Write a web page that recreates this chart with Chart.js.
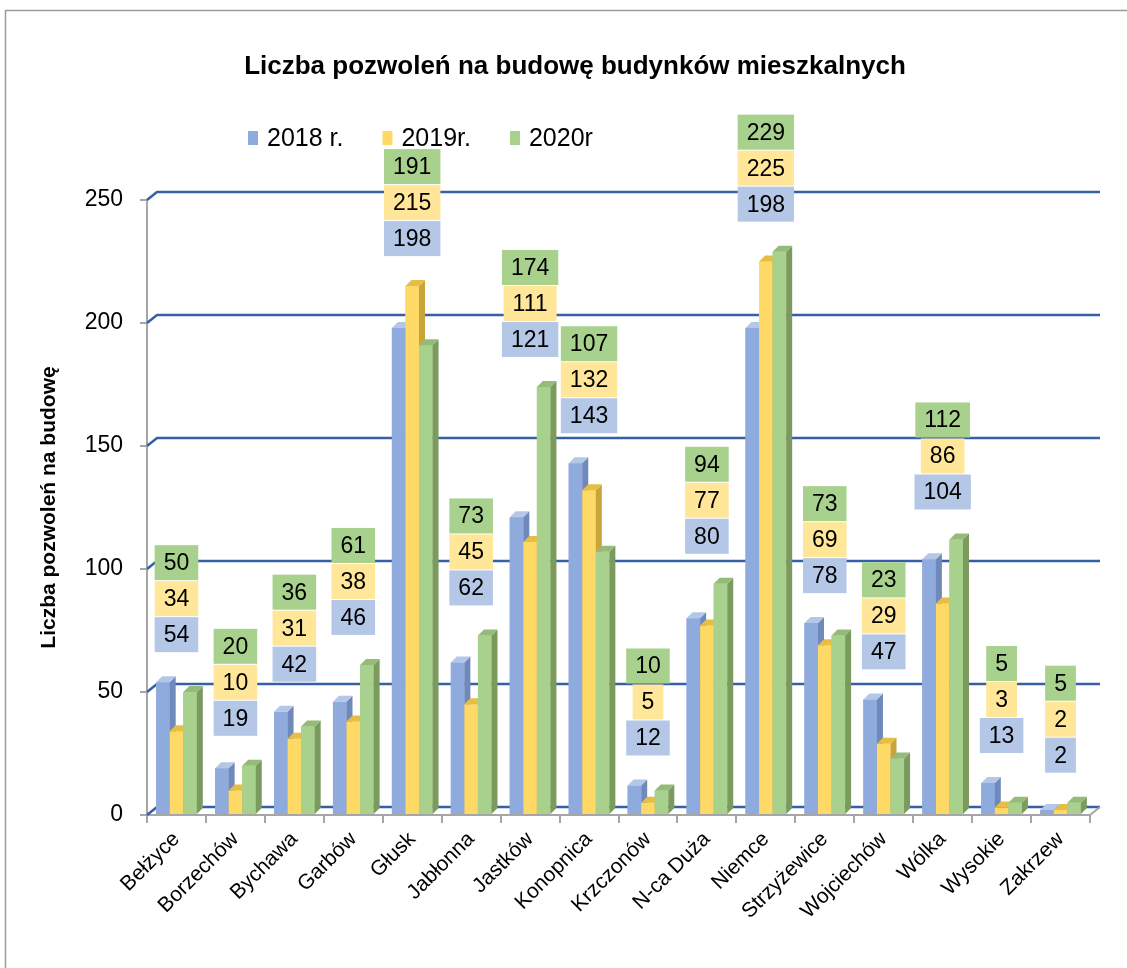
<!DOCTYPE html>
<html><head><meta charset="utf-8">
<script src="https://cdn.jsdelivr.net/npm/chart.js@4"></script>
<style>html,body{margin:0;padding:0;background:#fff;} #wrap{position:relative;width:1127px;height:968px;overflow:hidden}</style>
</head><body><div id="wrap"><canvas id="c" width="1127" height="968"></canvas></div>
<script>
const categories = ['Bełżyce','Borzechów','Bychawa','Garbów','Głusk','Jabłonna','Jastków','Konopnica','Krzczonów','N-ca Duża','Niemce','Strzyżewice','Wojciechów','Wólka','Wysokie','Zakrzew'];
const values2018 = [54,19,42,46,198,62,121,143,12,80,198,78,47,104,13,2];
const values2019 = [34,10,31,38,215,45,111,132,5,77,225,69,29,86,3,2];
const values2020 = [50,20,36,61,191,73,174,107,10,94,229,73,23,112,5,5];
const seriesLabels = ['2018 r.','2019r.','2020r'];
const yMin = 0, yMax = 250, yStep = 50;
const chartTitle = 'Liczba pozwoleń na budowę budynków mieszkalnych';
const yAxisTitle = 'Liczba pozwoleń na budowę';

const FONT = '"Liberation Sans", Arial, sans-serif';
const barColors = ['#8FAADC','#FFD966','#A9D18E'];
const sideColors = ['#6F89BA','#C9A43A','#7A9A5E'];
const topColors = ['#B4C7E7','#E6BE45','#94BB78'];
const boxColors = ['#B4C7E7','#FFE699','#A9D18E'];
const DEPTH = 6;

const framePlugin = {
  id: 'frame',
  beforeDraw(chart) {
    const ctx = chart.ctx;
    ctx.save();
    ctx.fillStyle = '#fff';
    ctx.fillRect(0, 0, chart.width, chart.height);
    ctx.strokeStyle = '#9A9A9A';
    ctx.lineWidth = 1.5;
    ctx.strokeRect(5.5, 10.5, 1140, 1000);
    // title
    ctx.fillStyle = '#000';
    ctx.font = 'bold 26px ' + FONT;
    ctx.textAlign = 'center';
    ctx.textBaseline = 'middle';
    ctx.fillText(chartTitle, 575, 67);
    // legend
    ctx.font = '25px ' + FONT;
    ctx.textAlign = 'left';
    let x = 248;
    const ly = 139;
    chart.data.datasets.forEach((ds, i) => {
      ctx.fillStyle = barColors[i];
      ctx.fillRect(x, ly - 8, 10, 14);
      ctx.fillStyle = '#000';
      ctx.fillText(ds.label, x + 19, ly);
      x += 19 + ctx.measureText(ds.label).width + 39;
    });
    ctx.restore();
  },
  beforeDatasetsDraw(chart) {
    const ctx = chart.ctx;
    const ys = chart.scales.y, area = chart.chartArea;
    ctx.save();
    ctx.strokeStyle = '#3560A6';
    ctx.lineWidth = 2.5;
    ctx.lineJoin = 'round';
    for (let v = yMin; v <= yMax; v += yStep) {
      const py = ys.getPixelForValue(v);
      ctx.beginPath();
      ctx.moveTo(area.left, py);
      ctx.lineTo(area.left + 10, py - 8);
      ctx.lineTo(area.right + 10, py - 8);
      ctx.stroke();
    }
    const p0 = ys.getPixelForValue(0);
    ctx.strokeStyle = '#A6A6A6';
    ctx.lineWidth = 2;
    ctx.beginPath();
    ctx.moveTo(area.right, p0);
    ctx.lineTo(area.right + 10, p0 - 8);
    ctx.stroke();
    ctx.restore();
  },
  afterDatasetsDraw(chart) {
    const ctx = chart.ctx;
    const metas = chart.data.datasets.map((d, i) => chart.getDatasetMeta(i));
    ctx.save();
    metas.forEach((meta, di) => {
      meta.data.forEach(el => {
        el.draw(ctx);
        const {x, y, base, width} = el.getProps(['x','y','base','width'], true);
        const l = x - width / 2, r = x + width / 2;
        ctx.fillStyle = sideColors[di];
        ctx.beginPath();
        ctx.moveTo(r, y);
        ctx.lineTo(r + DEPTH, y - DEPTH);
        ctx.lineTo(r + DEPTH, base - DEPTH);
        ctx.lineTo(r, base);
        ctx.closePath();
        ctx.fill();
        ctx.fillStyle = topColors[di];
        ctx.beginPath();
        ctx.moveTo(l, y);
        ctx.lineTo(l + DEPTH, y - DEPTH);
        ctx.lineTo(r + DEPTH, y - DEPTH);
        ctx.lineTo(r, y);
        ctx.closePath();
        ctx.fill();
      });
    });
    ctx.font = '23px ' + FONT;
    ctx.textAlign = 'center';
    ctx.textBaseline = 'middle';
    const BOXH = 35, GAP = 24;
    categories.forEach((c, i) => {
      const els = metas.map(m => m.data[i]);
      let top = Math.min(...els.map(e => e.y)) - DEPTH - GAP;
      const cx = els[1].x;
      els.forEach((e, di) => {
        const txt = String(chart.data.datasets[di].data[i]);
        const w = ctx.measureText(txt).width + 18;
        ctx.fillStyle = boxColors[di];
        ctx.fillRect(cx - w / 2, top - BOXH, w, BOXH);
        ctx.fillStyle = '#000';
        ctx.fillText(txt, cx, top - BOXH / 2 + 1);
        top -= BOXH + 1;
      });
    });
    ctx.restore();
  }
};

new Chart(document.getElementById('c'), {
  type: 'bar',
  data: {
    labels: categories,
    datasets: [
      { label: seriesLabels[0], data: values2018, backgroundColor: barColors[0] },
      { label: seriesLabels[1], data: values2019, backgroundColor: barColors[1] },
      { label: seriesLabels[2], data: values2020, backgroundColor: barColors[2] }
    ]
  },
  options: {
    responsive: false,
    animation: false,
    devicePixelRatio: 1,
    layout: { padding: { top: 200, right: 37, left: 0, bottom: 0 } },
    datasets: { bar: { categoryPercentage: 0.69, barPercentage: 1.0 } },
    plugins: { legend: { display: false }, title: { display: false }, tooltip: { enabled: false } },
    scales: {
      x: {
        afterFit(s) { s.height = 153; },
        grid: { display: true, drawOnChartArea: false, offset: true, tickLength: 8, color: '#A6A6A6', lineWidth: 2 },
        border: { display: true, color: '#A6A6A6', width: 2 },
        ticks: { minRotation: 45, maxRotation: 45, padding: 4, color: '#000', font: { family: FONT, size: 21 } }
      },
      y: {
        min: yMin, max: yMax,
        afterFit(s) { s.width = 147; },
        grid: { display: true, drawOnChartArea: false, tickLength: 7, color: '#A6A6A6', lineWidth: 2 },
        border: { display: true, color: '#A6A6A6', width: 2 },
        ticks: { stepSize: yStep, padding: 17, color: '#000', font: { family: FONT, size: 23 } },
        title: { display: true, text: yAxisTitle, color: '#000', padding: { top: 37, bottom: 0 }, font: { family: FONT, size: 21, weight: 'bold' } }
      }
    }
  },
  plugins: [framePlugin]
});
</script>
</body></html>
